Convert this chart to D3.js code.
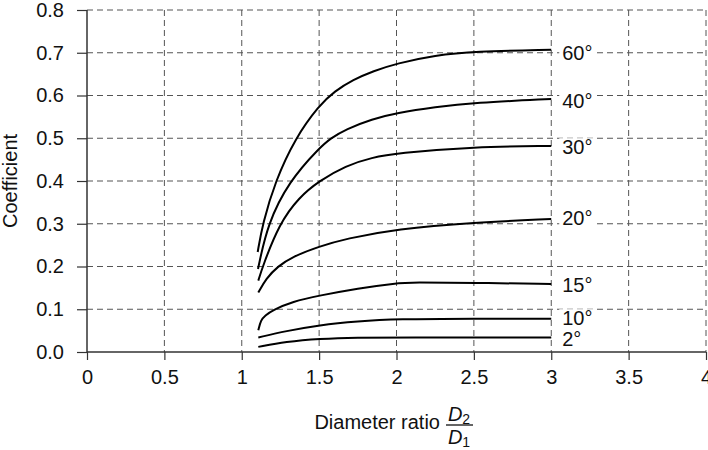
<!DOCTYPE html>
<html>
<head>
<meta charset="utf-8">
<script src="https://cdn.jsdelivr.net/npm/d3@7"></script>
<style>
  body { margin: 0; background: #fff; }
  svg { display: block; font-family: "Liberation Sans", Arial, Helvetica, sans-serif; }
</style>
</head>
<body>
<div id="chart"></div>
<script>
// ---- datos ----
var xTicks = [0, 0.5, 1, 1.5, 2, 2.5, 3, 3.5, 4];
var xTickLabels = ["0", "0.5", "1", "1.5", "2", "2.5", "3", "3.5", "4"];
var yTicks = [0, 0.1, 0.2, 0.3, 0.4, 0.5, 0.6, 0.7, 0.8];
var yTickLabels = ["0.0", "0.1", "0.2", "0.3", "0.4", "0.5", "0.6", "0.7", "0.8"];

var curva60 = [[1.103, 0.234], [1.135, 0.30], [1.217, 0.40], [1.345, 0.50], [1.50, 0.577], [1.60, 0.610], [1.72, 0.637], [1.85, 0.657], [2.0, 0.675], [2.25, 0.694], [2.5, 0.703], [3.0, 0.707]];
var curva40 = [[1.105, 0.194], [1.167, 0.30], [1.307, 0.40], [1.50, 0.477], [1.575, 0.50], [1.672, 0.521], [1.843, 0.545], [2.0, 0.559], [2.25, 0.573], [2.5, 0.583], [3.0, 0.592]];
var curva30 = [[1.107, 0.167], [1.135, 0.20], [1.242, 0.30], [1.37, 0.362], [1.50, 0.40], [1.672, 0.436], [1.843, 0.455], [2.0, 0.465], [2.5, 0.480], [3.0, 0.482]];
var curva20 = [[1.107, 0.139], [1.157, 0.172], [1.232, 0.20], [1.328, 0.223], [1.50, 0.247], [1.672, 0.265], [2.0, 0.288], [2.5, 0.303], [3.0, 0.311]];
var curva15 = [[1.107, 0.051], [1.124, 0.075], [1.15, 0.085], [1.20, 0.098], [1.328, 0.118], [1.50, 0.132], [1.75, 0.149], [2.0, 0.161], [2.1, 0.163], [2.5, 0.162], [3.0, 0.159]];
var curva10 = [[1.107, 0.034], [1.285, 0.049], [1.50, 0.063], [1.75, 0.072], [2.0, 0.077], [2.5, 0.078], [3.0, 0.078]];
var curva2 = [[1.107, 0.012], [1.285, 0.024], [1.50, 0.031], [1.75, 0.034], [2.0, 0.034], [3.0, 0.034]];

var angulos = ["60°", "40°", "30°", "20°", "15°", "10°", "2°"];
var posEtiqueta = [0.700, 0.588, 0.479, 0.313, 0.157, 0.079, 0.030]; // altura de cada etiqueta
var curvas = [curva60, curva40, curva30, curva20, curva15, curva10, curva2];

(function () {
    // ---- tamaño ----
    var chart_width = 708, chart_height = 450;
    var m_izq = 87, m_der = 706, m_sup = 10, m_inf = 352;
    var fs = 20; // tamaño de letra

    var svg = d3.select('#chart').append('svg')
        .attr('width', chart_width)
        .attr('height', chart_height);

    var scale_x = d3.scaleLinear().domain([0, 4]).range([m_izq, m_der]);
    var scale_y = d3.scaleLinear().domain([0, 0.8]).range([m_inf, m_sup]);

    // rejilla punteada
    var grid = svg.append('g');
    grid.selectAll('line.v')
        .data(xTicks.filter(function (d) { return d > 0; }))
        .enter().append('line')
        .attr('x1', function (d) { return scale_x(d); })
        .attr('x2', function (d) { return scale_x(d); })
        .attr('y1', scale_y(0.8))
        .attr('y2', scale_y(0))
        .attr('stroke', '#555')
        .attr('stroke-width', 1)
        .attr('stroke-dasharray', '6,4');

    grid.selectAll('line.h')
        .data(yTicks.filter(function (d) { return d > 0; }))
        .enter().append('line')
        .attr('x1', scale_x(0))
        .attr('x2', scale_x(4))
        .attr('y1', function (d) { return scale_y(d); })
        .attr('y2', function (d) { return scale_y(d); })
        .attr('stroke', '#555')
        .attr('stroke-width', 1)
        .attr('stroke-dasharray', '6,4');

    // ejes
    var ejeX = svg.append('g')
        .attr('transform', 'translate(0,' + scale_y(0) + ')')
        .call(d3.axisBottom(scale_x).tickValues(xTicks).tickSize(8).tickPadding(10)
            .tickFormat(function (d, i) { return xTickLabels[i]; }));

    var ejeY = svg.append('g')
        .attr('transform', 'translate(' + scale_x(0) + ',0)')
        .call(d3.axisLeft(scale_y).tickValues(yTicks).tickSize(10).tickPadding(13)
            .tickFormat(function (d, i) { return yTickLabels[i]; }));

    [ejeX, ejeY].forEach(function (eje) {
        eje.select('.domain').attr('stroke', '#333').attr('stroke-width', 1.5);
        eje.selectAll('.tick line').attr('stroke', '#333').attr('stroke-width', 1.2);
        eje.selectAll('.tick text')
            .attr('font-size', fs)
            .attr('font-family', '"Liberation Sans", Arial, sans-serif')
            .attr('fill', '#111');
    });
    ejeX.select('.domain').attr('d', 'M' + scale_x(0) + ',0H' + scale_x(4));
    ejeY.select('.domain').attr('d', 'M0,' + scale_y(0.8) + 'V' + scale_y(0));

    // curvas suavizadas (B-spline)
    var line = d3.line()
        .x(function (d) { return scale_x(d[0]); })
        .y(function (d) { return scale_y(d[1]); })
        .curve(d3.curveBasis);

    svg.selectAll('path.curva')
        .data(curvas)
        .enter().append('path')
        .attr('class', 'curva')
        .attr('d', function (d) { return line(d); })
        .attr('fill', 'none')
        .attr('stroke', '#000')
        .attr('stroke-width', 2);

    // etiquetas de angulo (fondo blanco para tapar la rejilla)
    var etiquetas = svg.selectAll('g.etiqueta')
        .data(angulos)
        .enter().append('g')
        .attr('class', 'etiqueta')
        .attr('transform', function (d, i) {
            return 'translate(' + (scale_x(3) + 11) + ',' + scale_y(posEtiqueta[i]) + ')';
        });

    etiquetas.append('rect')
        .attr('x', -3)
        .attr('y', -9)
        .attr('width', function (d) { return d.length > 2 ? 37 : 26; })
        .attr('height', 18)
        .attr('fill', '#fff');

    etiquetas.append('text')
        .attr('dy', '0.35em')
        .attr('font-size', fs)
        .attr('fill', '#111')
        .text(function (d) { return d; });

    // titulo eje Y
    svg.append('text')
        .attr('transform', 'translate(17,' + ((m_sup + m_inf) / 2) + ') rotate(-90)')
        .attr('text-anchor', 'middle')
        .attr('font-size', fs)
        .attr('fill', '#111')
        .text('Coefficient');

    // titulo eje X con fraccion D2/D1
    svg.append('text')
        .attr('x', 440)
        .attr('y', 429)
        .attr('text-anchor', 'end')
        .attr('font-size', fs)
        .attr('fill', '#111')
        .text('Diameter ratio');

    var fx = 459;
    var num = svg.append('text')
        .attr('x', fx)
        .attr('y', 421)
        .attr('text-anchor', 'middle')
        .attr('font-size', fs)
        .attr('fill', '#111');
    num.append('tspan').attr('font-style', 'italic').text('D');
    num.append('tspan').attr('font-size', 14).attr('dy', 3).text('2');

    var den = svg.append('text')
        .attr('x', fx)
        .attr('y', 444)
        .attr('text-anchor', 'middle')
        .attr('font-size', fs)
        .attr('fill', '#111');
    den.append('tspan').attr('font-style', 'italic').text('D');
    den.append('tspan').attr('font-size', 14).attr('dy', 3).text('1');

    svg.append('line')
        .attr('x1', 446)
        .attr('x2', 473)
        .attr('y1', 425)
        .attr('y2', 425)
        .attr('stroke', '#111')
        .attr('stroke-width', 1.3);
})();
</script>
</body>
</html>
